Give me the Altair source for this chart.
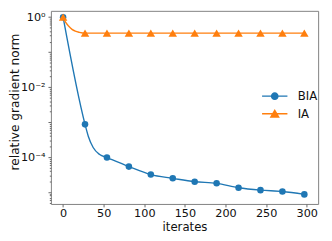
import altair as alt
import pandas as pd

# marker positions (iterates) and values
iters = [0, 27, 54, 81, 108, 135, 162, 189, 216, 243, 270, 297]
bia_vals = [1.0, 8.7e-4, 9.8e-5, 5.4e-5, 3.2e-5, 2.5e-5, 2.0e-5, 1.8e-5, 1.35e-5, 1.15e-5, 1.05e-5, 8.7e-6]
ia_vals = [1.0, 0.35, 0.35, 0.35, 0.35, 0.35, 0.35, 0.35, 0.35, 0.35, 0.35, 0.35]

# extra line points
bia_extra_x = [31, 37, 45]
bia_extra_y = [4.0e-4, 1.9e-4, 1.2e-4]
ia_extra_x = [3, 7, 11, 15, 20]
ia_extra_y = [0.72, 0.55, 0.45, 0.40, 0.37]

series = ["BIA", "IA"]
colors = ["#1f77b4", "#ff7f0e"]

# y tick data
tick_exponents = [-6, -5, -4, -3, -2, -1, 0]
tick_multipliers = [1, 2, 3, 4, 5, 6, 7, 8, 9]
labelled = {1.0: "10⁰", 0.01: "10⁻²", 0.0001: "10⁻⁴"}

ymin, ymax = 10 ** -5.334, 10 ** 0.181
yticks = [m * 10 ** k for k in tick_exponents for m in tick_multipliers
          if ymin <= m * 10 ** k <= ymax]

markers = pd.DataFrame(
    {"x": iters + iters, "y": bia_vals + ia_vals,
     "series": ["BIA"] * len(iters) + ["IA"] * len(iters)}
)
bia_line = sorted(zip(iters + bia_extra_x, bia_vals + bia_extra_y))
ia_line = sorted(zip(iters + ia_extra_x, ia_vals + ia_extra_y))
lines = pd.DataFrame(
    {"x": [p[0] for p in bia_line] + [p[0] for p in ia_line],
     "y": [p[1] for p in bia_line] + [p[1] for p in ia_line],
     "series": ["BIA"] * len(bia_line) + ["IA"] * len(ia_line)}
)

label_expr = " : ".join(
    f"abs(datum.value - {v}) < {v * 1e-6} ? '{t}'" for v, t in labelled.items()
) + " : ''"
major_test = "abs(log(datum.value)/LN10 - round(log(datum.value)/LN10)) < 0.001"

font = "DejaVu Sans"
xscale = alt.Scale(domain=[-15, 314], nice=False, zero=False)
yscale = alt.Scale(type="log", domain=[ymin, ymax], nice=False)
cscale = alt.Scale(domain=series, range=colors)

xaxis = alt.Axis(values=[0, 50, 100, 150, 200, 250, 300], title="iterates",
                 grid=False, domain=False, tickSize=3, tickColor="#666",
                 labelFontSize=11.5, titleFontSize=12, labelColor="#111",
                 titleColor="#111", titleFontWeight="normal", labelPadding=1,
                 titlePadding=3, labelFont=font, titleFont=font)
yaxis = alt.Axis(values=yticks, title="relative gradient norm", grid=False,
                 domain=False, labelExpr=label_expr, labelOverlap=False,
                 tickSize={"condition": {"test": major_test, "value": 3}, "value": 1.6},
                 tickColor="#666", labelFontSize=11.5, titleFontSize=12.5,
                 labelColor="#111", titleColor="#111", titleFontWeight="normal",
                 labelPadding=3, labelFont=font, titleFont=font,
                 titleX=-37, titleY=93, titleBaseline="middle", titleAlign="center")

base_x = alt.X("x:Q", scale=xscale, axis=xaxis)
base_y = alt.Y("y:Q", scale=yscale, axis=yaxis)

def layer_for(name, shape, size):
    line = alt.Chart(lines[lines.series == name]).mark_line(
        interpolate="monotone", strokeWidth=1.4, color=colors[series.index(name)]
    ).encode(x=base_x, y=base_y)
    pts = alt.Chart(markers[markers.series == name]).mark_point(
        filled=True, opacity=1, shape=shape, size=size,
        color=colors[series.index(name)]
    ).encode(x=base_x, y=base_y)
    return line, pts

bl, bp = layer_for("BIA", "circle", 45)
il, ip = layer_for("IA", "triangle-up", 75)

circle_path = "M-2,0L2,0M0.5,0A0.5,0.5,0,1,1,-0.5,0A0.5,0.5,0,1,1,0.5,0Z"
tri_path = "M-2,0L2,0M0,-0.55L0.62,0.52L-0.62,0.52Z"

legend_layer = alt.Chart(markers).transform_filter("false").mark_point(
    strokeWidth=1.4, opacity=1
).encode(
    x=base_x, y=base_y,
    fill=alt.Fill("series:N", scale=cscale, legend=None),
    stroke=alt.Stroke("series:N", scale=cscale, legend=None),
    shape=alt.Shape("series:N", scale=alt.Scale(domain=series, range=[circle_path, tri_path]),
                    legend=alt.Legend(orient="none", legendX=222, legendY=80, title=None,
                                      symbolSize=169, symbolStrokeWidth=1.4,
                                      labelOffset=16, rowPadding=4, padding=0,
                                      labelFontSize=12, labelFont=font,
                                      labelColor="#111")),
)

chart = alt.layer(bl, il, bp, ip, legend_layer).properties(
    width=274, height=198,
    autosize=alt.AutoSizeParams(type="none"),
    padding={"left": 44, "top": 0, "right": 6, "bottom": 33},
).configure_view(stroke="#808080", strokeWidth=1)

chart.save("out.html", embed_options={"renderer": "svg", "actions": False})
